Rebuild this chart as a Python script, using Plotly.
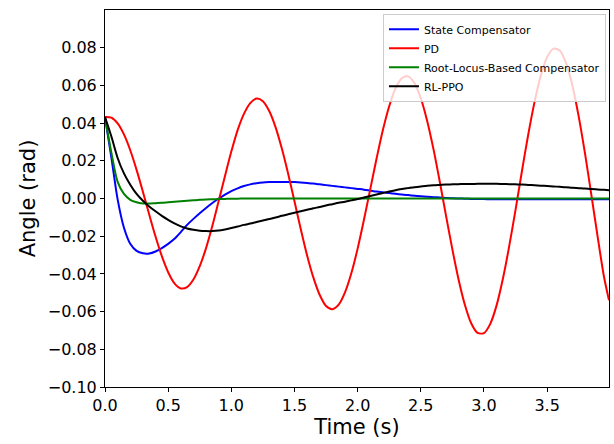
import plotly.graph_objects as go

time_s = [0.00, 0.05, 0.10, 0.15, 0.20, 0.25, 0.30, 0.35, 0.40, 0.45,
          0.50, 0.55, 0.60, 0.65, 0.70, 0.75, 0.80, 0.85, 0.90, 0.95,
          1.00, 1.05, 1.10, 1.15, 1.20, 1.25, 1.30, 1.35, 1.40, 1.45,
          1.50, 1.55, 1.60, 1.65, 1.70, 1.75, 1.80, 1.85, 1.90, 1.95,
          2.00, 2.05, 2.10, 2.15, 2.20, 2.25, 2.30, 2.35, 2.40, 2.45,
          2.50, 2.55, 2.60, 2.65, 2.70, 2.75, 2.80, 2.85, 2.90, 2.95,
          3.00, 3.05, 3.10, 3.15, 3.20, 3.25, 3.30, 3.35, 3.40, 3.45,
          3.50, 3.55, 3.60, 3.65, 3.70, 3.75, 3.80, 3.85, 3.90, 3.95,
          3.99]

state_comp = [0.0432, 0.0220, -0.0005, -0.0155, -0.0240, -0.0278, -0.0291, -0.0292, -0.0281, -0.0263,
              -0.0241, -0.0214, -0.0178, -0.0140, -0.0108, -0.0078, -0.0050, -0.0024, 0.0000, 0.0021,
              0.0039, 0.0054, 0.0066, 0.0075, 0.0081, 0.0085, 0.0087, 0.0088, 0.0088, 0.0088,
              0.0087, 0.0085, 0.0082, 0.0079, 0.0075, 0.0071, 0.0067, 0.0063, 0.0059, 0.0055,
              0.0051, 0.0047, 0.0042, 0.0037, 0.0033, 0.0029, 0.0025, 0.0021, 0.0018, 0.0015,
              0.0012, 0.0009, 0.0007, 0.0005, 0.0003, 0.0001, 0.0000, -0.0001, -0.0002, -0.0003,
              -0.0003, -0.0004, -0.0004, -0.0004, -0.0004, -0.0004, -0.0004, -0.0004, -0.0004, -0.0004,
              -0.0004, -0.0004, -0.0004, -0.0004, -0.0004, -0.0004, -0.0004, -0.0004, -0.0004, -0.0004,
              -0.0004]

pd_ctrl = [0.0432, 0.0429, 0.0399, 0.0340, 0.0256, 0.0152, 0.0036, -0.0085, -0.0202, -0.0306,
           -0.0391, -0.0450, -0.0477, -0.0470, -0.0430, -0.0359, -0.0263, -0.0145, -0.0013, 0.0120,
           0.0249, 0.0363, 0.0449, 0.0506, 0.0530, 0.0516, 0.0464, 0.0379, 0.0265, 0.0131,
           -0.0015, -0.0163, -0.0302, -0.0420, -0.0512, -0.0570, -0.0587, -0.0563, -0.0498, -0.0397,
           -0.0266, -0.0113, 0.0050, 0.0212, 0.0363, 0.0489, 0.0584, 0.0638, 0.0648, 0.0613,
           0.0532, 0.0413, 0.0263, 0.0090, -0.0092, -0.0270, -0.0432, -0.0566, -0.0663, -0.0713,
           -0.0714, -0.0665, -0.0567, -0.0426, -0.0253, -0.0060, 0.0142, 0.0337, 0.0510, 0.0652,
           0.0750, 0.0795, 0.0785, 0.0718, 0.0600, 0.0436, 0.0239, 0.0021, -0.0202, -0.0414,
           -0.0540]

root_locus = [0.0432, 0.0245, 0.0088, 0.0024, -0.0007, -0.0020, -0.0026, -0.0027, -0.0025, -0.0023,
              -0.0020, -0.0017, -0.0014, -0.0012, -0.0009, -0.0007, -0.0005, -0.0004, -0.0003, -0.0002,
              -0.0001, -0.0001, 0.0000, 0.0000, 0.0000, 0.0000, 0.0000, 0.0000, 0.0000, 0.0000,
              0.0000, 0.0000, 0.0000, 0.0000, 0.0000, 0.0000, 0.0000, 0.0000, 0.0000, 0.0000,
              0.0000, 0.0000, 0.0000, 0.0000, 0.0000, 0.0000, 0.0000, 0.0000, 0.0000, 0.0000,
              0.0000, 0.0000, 0.0000, 0.0000, 0.0000, 0.0000, 0.0000, 0.0000, 0.0000, 0.0000,
              0.0000, 0.0000, 0.0000, 0.0000, 0.0000, 0.0000, 0.0000, 0.0000, 0.0000, 0.0000,
              0.0000, 0.0000, 0.0000, 0.0000, 0.0000, 0.0000, 0.0000, 0.0000, 0.0000, 0.0000,
              0.0000]

rl_ppo = [0.0432, 0.0330, 0.0215, 0.0133, 0.0073, 0.0024, -0.0012, -0.0042, -0.0068, -0.0092,
          -0.0113, -0.0132, -0.0148, -0.0159, -0.0166, -0.0171, -0.0173, -0.0173, -0.0170, -0.0164,
          -0.0157, -0.0149, -0.0140, -0.0133, -0.0125, -0.0117, -0.0109, -0.0101, -0.0092, -0.0084,
          -0.0076, -0.0068, -0.0060, -0.0052, -0.0045, -0.0037, -0.0030, -0.0023, -0.0017, -0.0010,
          -0.0003, 0.0005, 0.0013, 0.0021, 0.0029, 0.0037, 0.0044, 0.0050, 0.0055, 0.0060,
          0.0064, 0.0067, 0.0070, 0.0072, 0.0074, 0.0075, 0.0076, 0.0077, 0.0077, 0.0078,
          0.0078, 0.0078, 0.0078, 0.0077, 0.0076, 0.0075, 0.0074, 0.0072, 0.0070, 0.0068,
          0.0066, 0.0064, 0.0062, 0.0060, 0.0057, 0.0055, 0.0053, 0.0050, 0.0048, 0.0046,
          0.0044]

series_names = ["State Compensator", "PD", "Root-Locus-Based Compensator", "RL-PPO"]
series_values = [state_comp, pd_ctrl, root_locus, rl_ppo]
series_colors = ["#0000ff", "#ff0000", "#008000", "#000000"]

y_ticks = [-0.10, -0.08, -0.06, -0.04, -0.02, 0.00, 0.02, 0.04, 0.06, 0.08]
x_ticks = [0.0, 0.5, 1.0, 1.5, 2.0, 2.5, 3.0, 3.5]

fig = go.Figure()
for name, vals, col in zip(series_names, series_values, series_colors):
    fig.add_trace(go.Scatter(x=time_s, y=vals, mode="lines", name=name,
                             line=dict(color=col, width=2, shape="spline", smoothing=0.8)))

font_family = "DejaVu Sans"
fig.update_layout(
    width=614, height=444,
    margin=dict(l=105, r=5, t=10, b=57),
    paper_bgcolor="white", plot_bgcolor="white",
    font=dict(family=font_family, color="black", size=16),
    showlegend=True,
    legend=dict(x=0.994, y=0.99, xanchor="right", yanchor="top",
                bgcolor="rgba(255,255,255,0.8)", bordercolor="#cccccc", borderwidth=1,
                itemwidth=30, font=dict(size=11, family=font_family)),
)
fig.update_xaxes(range=[0, 3.99], tickvals=x_ticks, tickformat=".1f",
                 showgrid=False, zeroline=False, showline=True, linecolor="black",
                 linewidth=1, mirror=True, ticks="outside", ticklen=4, tickcolor="black",
                 title=dict(text="Time (s)", font=dict(size=21), standoff=5))
fig.update_yaxes(range=[-0.1, 0.1], tickvals=y_ticks, tickformat=".2f",
                 showgrid=False, zeroline=False, showline=True, linecolor="black",
                 linewidth=1, mirror=True, ticks="outside", ticklen=4, tickcolor="black",
                 title=dict(text="Angle (rad)", font=dict(size=21), standoff=6))

fig.write_html("out.html", config={"displayModeBar": False},
               post_script="document.body.style.margin='0';document.body.style.overflow='hidden';")
